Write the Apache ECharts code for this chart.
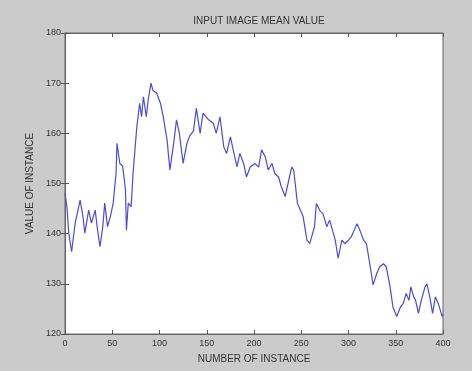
<!DOCTYPE html>
<html>
<head>
<meta charset="utf-8">
<script src="https://cdn.jsdelivr.net/npm/echarts@6/dist/echarts.min.js"></script>
<style>
html,body{margin:0;padding:0;background:#cbcbcb;}
#chart{width:472px;height:371px;}
</style>
</head>
<body>
<div id="chart"></div>
<script>
var titleText = 'INPUT IMAGE MEAN VALUE';
var xAxisName = 'NUMBER OF INSTANCE';
var yAxisName = 'VALUE OF INSTANCE';
var xTicks = [0, 50, 100, 150, 200, 250, 300, 350, 400];
var yTicks = [120, 130, 140, 150, 160, 170, 180];
var instance = [0,2,4,5,7,11,13,16,19,21,25,28,32,34,37,40,42,45,48,51,54,55,58,61,64,65,67,70,72,76,79,81,83,86,88,91,93,97,101,104,108,111,115,118,121,125,129,132,136,139,143,146,152,157,160,164,168,171,175,178,182,185,189,192,196,201,205,208,212,215,219,222,226,229,233,236,240,242,246,249,252,256,259,264,266,270,273,277,280,282,286,289,293,296,300,303,309,312,316,319,323,326,330,333,337,340,344,347,351,355,358,361,364,366,369,371,374,377,381,383,386,389,392,395,399,400];
var meanValue = [148,145.4,140.1,140,136.4,142.4,144,146.7,143.4,140.1,144.7,142.1,144.7,141.4,137.4,141.4,146.1,141.4,143.4,146.1,152,158,154,153.5,148.7,140.7,146.1,145.4,152,161.3,166,163.3,167.3,163.3,166.6,170,168.6,168,166,163.3,158.7,152.7,158,162.7,160,154,158,159.5,160.5,165,160,164,162.7,162,160,163.3,157.3,156,159.3,156.7,153.3,156,154,151.3,153.3,154,153.3,156.7,155.3,152.7,154,152,151.3,149.3,147.4,150,153.3,152.7,146,144.7,143.4,138.7,138,141.4,146,144.5,144,141.4,142.7,141.4,138.7,135.1,138.7,138,138.7,139.4,142,140.7,138.7,138,133.4,129.8,132.1,133.4,134,133.4,129.4,125.4,123.5,125.4,126.1,128.1,126.7,129.4,127.4,126.7,124.1,126.7,129.4,130,127.4,124.1,127.4,126.1,123.5,124];

var seriesData = instance.map(function (x, i) { return [x, meanValue[i]]; });
var font = 'Liberation Sans, Arial, sans-serif';
var chart = echarts.init(document.getElementById('chart'));
var tickStyle = { show: true, inside: true, length: 4, lineStyle: { color: '#555', width: 1 } };
chart.setOption({
  backgroundColor: '#cbcbcb',
  animation: false,
  title: {
    text: titleText, left: 254, top: 11, textAlign: 'center',
    textStyle: { fontFamily: font, fontSize: 10, fontWeight: 'normal', color: '#333' }
  },
  grid: { left: 65, right: 29, top: 33, bottom: 37, show: true, backgroundColor: '#ffffff', borderColor: '#666', borderWidth: 1 },
  xAxis: [{
    type: 'value', min: xTicks[0], max: xTicks[xTicks.length - 1], interval: 50,
    name: xAxisName, nameLocation: 'middle', nameGap: 20,
    nameTextStyle: { fontFamily: font, fontSize: 10, color: '#333' },
    axisLine: { show: true, lineStyle: { color: '#666' } },
    axisTick: tickStyle,
    axisLabel: { fontFamily: font, fontSize: 9, color: '#333', margin: 5 },
    splitLine: { show: false }
  }, {
    type: 'value', position: 'top', min: xTicks[0], max: xTicks[xTicks.length - 1], interval: 50,
    axisLine: { show: true, lineStyle: { color: '#666' } },
    axisTick: tickStyle, axisLabel: { show: false }, splitLine: { show: false }
  }],
  yAxis: [{
    type: 'value', min: yTicks[0], max: yTicks[yTicks.length - 1], interval: 10,
    name: yAxisName, nameLocation: 'middle', nameGap: 28, nameRotate: 90,
    nameTextStyle: { fontFamily: font, fontSize: 10, color: '#333' },
    axisLine: { show: true, lineStyle: { color: '#666' } },
    axisTick: tickStyle,
    axisLabel: { fontFamily: font, fontSize: 9, color: '#333', margin: 4 },
    splitLine: { show: false }
  }, {
    type: 'value', position: 'right', min: yTicks[0], max: yTicks[yTicks.length - 1], interval: 10,
    axisLine: { show: true, lineStyle: { color: '#666' } },
    axisTick: tickStyle, axisLabel: { show: false }, splitLine: { show: false }
  }],
  series: [{
    type: 'line', data: seriesData, xAxisIndex: 0, yAxisIndex: 0,
    showSymbol: false, symbol: 'none',
    lineStyle: { color: '#4b4bd6', width: 1.2 }
  }]
});
</script>
</body>
</html>
